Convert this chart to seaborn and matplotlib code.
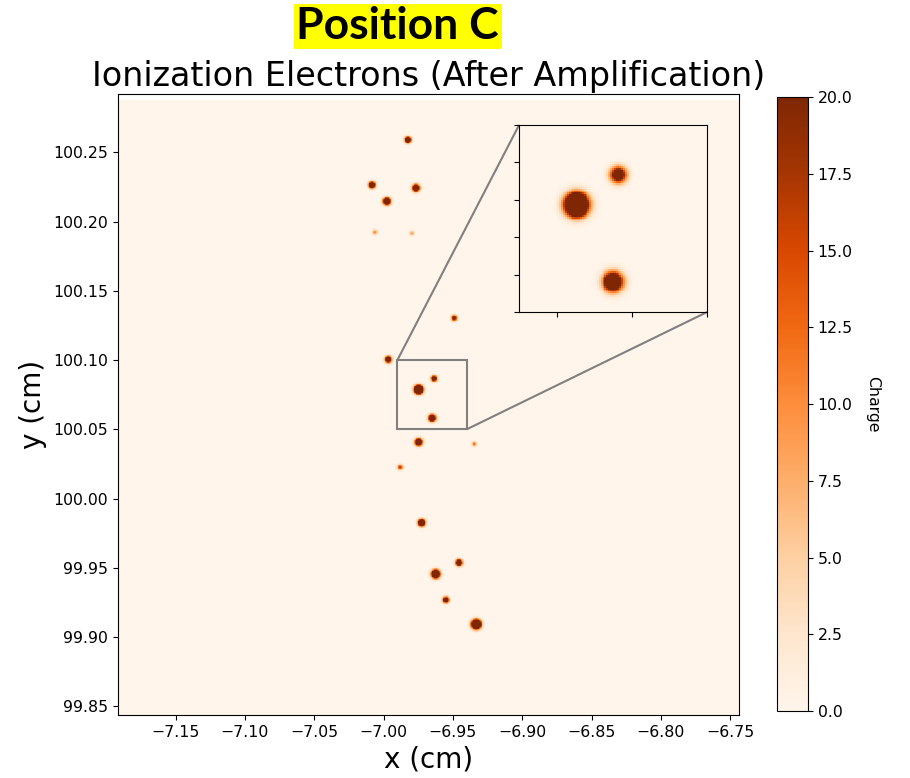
import numpy as np
import pandas as pd
import matplotlib
matplotlib.use("Agg")
import matplotlib.pyplot as plt
import seaborn as sns
from mpl_toolkits.axes_grid1.inset_locator import mark_inset

# Electron clusters (cm, charge)
blob_x = [-6.9824, -7.0084, -6.9766, -6.9976, -7.0062, -6.9795, -6.9490, -6.9966,
          -6.9636, -6.9747, -6.9650, -6.9747, -6.9346, -6.9880, -6.9725, -6.9456,
          -6.9624, -6.9550, -6.9331]
blob_y = [100.2590, 100.2264, 100.2242, 100.2147, 100.1923, 100.1916, 100.1303, 100.1005,
          100.0867, 100.0787, 100.0581, 100.0408, 100.0394, 100.0226, 99.9826, 99.9537,
          99.9455, 99.9268, 99.9092]
blob_sigma = [0.0015, 0.0016, 0.0017, 0.0017, 0.0013, 0.0012, 0.0014, 0.0016,
              0.0014, 0.0019, 0.0017, 0.0017, 0.0012, 0.0013, 0.0017, 0.0016,
              0.0019, 0.0015, 0.0021]
blob_peak = [40, 40, 45, 50, 10, 9, 25, 40,
             35, 80, 45, 45, 12, 18, 45, 40,
             60, 35, 70]

x_range = (-7.1918, -6.7436)
y_range = (99.8435, 100.2875)
pixel = 0.0005
charge_min, charge_max = 0, 20
zoom_x = (-6.99, -6.94)
zoom_y = (100.05, 100.10)

# Readout grid
x_edges = np.arange(x_range[0], x_range[1] + pixel / 2, pixel)
y_edges = np.arange(y_range[0], y_range[1] + pixel / 2, pixel)
xc = (x_edges[:-1] + x_edges[1:]) / 2
yc = (y_edges[:-1] + y_edges[1:]) / 2
XX, YY = np.meshgrid(xc, yc, indexing="ij")
charge = np.zeros_like(XX)
for bx, by, bs, bp in zip(blob_x, blob_y, blob_sigma, blob_peak):
    charge += bp * np.exp(-((XX - bx) ** 2 + (YY - by) ** 2) / (2 * bs ** 2))

df = pd.DataFrame({"x": XX.ravel(), "y": YY.ravel(), "charge": charge.ravel()})

fig = plt.figure(figsize=(9.1, 7.78), dpi=100)
ax = fig.add_axes([0.1293, 0.0806, 0.6828, 0.7986])
cax = fig.add_axes([0.8538, 0.0861, 0.0341, 0.789])

sns.histplot(data=df, x="x", y="y", weights="charge", bins=[x_edges, y_edges],
             thresh=None, cmap="Oranges", vmin=charge_min, vmax=charge_max,
             cbar=True, cbar_ax=cax, ax=ax)
ax.set_xlim(x_range[0], x_range[1])
ax.set_ylim(y_range[0], 100.2921)
ax.set_title("Ionization Electrons (After Amplification)", fontsize=24)
ax.set_xlabel("x (cm)", fontsize=20)
ax.set_ylabel("y (cm)", fontsize=20)
ax.tick_params(labelsize=11.3)

cax.tick_params(labelsize=11.3)
cax.set_ylabel("Charge", rotation=270, labelpad=20, fontsize=11.3)

# Zoomed inset
axins = ax.inset_axes([0.646, 0.649, 0.3026, 0.301])
sub = df[(df.x > zoom_x[0] - 0.002) & (df.x < zoom_x[1] + 0.002)
         & (df.y > zoom_y[0] - 0.002) & (df.y < zoom_y[1] + 0.002)]
sx = x_edges[(x_edges > zoom_x[0] - 0.003) & (x_edges < zoom_x[1] + 0.003)]
sy = y_edges[(y_edges > zoom_y[0] - 0.003) & (y_edges < zoom_y[1] + 0.003)]
sns.histplot(data=sub, x="x", y="y", weights="charge", bins=[sx, sy],
             thresh=None, cmap="Oranges", vmin=charge_min, vmax=charge_max,
             cbar=False, ax=axins)
axins.set_xlim(*zoom_x)
axins.set_ylim(*zoom_y)
axins.set_xticks([-6.98, -6.96, -6.94])
axins.set_yticks([100.05, 100.06, 100.07, 100.08, 100.09, 100.10])
axins.set_xticklabels([])
axins.set_yticklabels([])
axins.set_xlabel("")
axins.set_ylabel("")
mark_inset(ax, axins, loc1=2, loc2=4, fc="none", ec="0.5", lw=1.5)

fig.text(0.437, 0.966, "Position C", ha="center", va="center", fontsize=32,
         fontweight="bold", family=["Lato", "DejaVu Sans"],
         bbox=dict(facecolor="yellow", edgecolor="none", pad=2))

fig.savefig("out.png", dpi=100)
